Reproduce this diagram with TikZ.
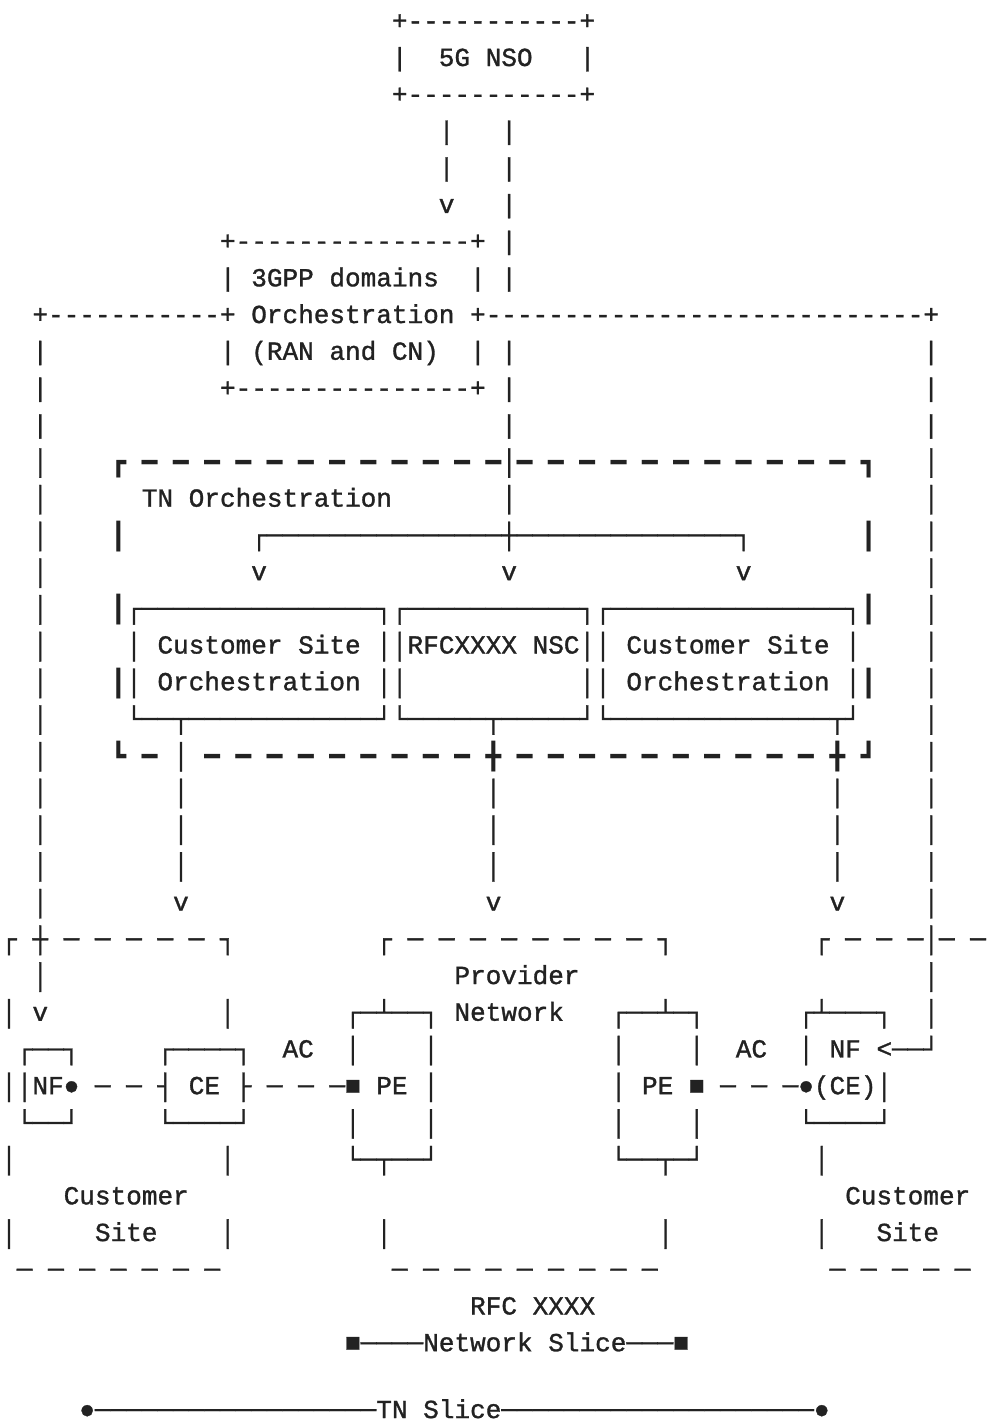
\documentclass[tikz,border=0pt]{standalone}
\usepackage{fontspec}
\newfontfamily\artmono{Liberation Mono}[Ligatures=TeXOff,FakeBold=1.2]
\newfontfamily\heavymono{DejaVu Sans Mono}[Ligatures=TeXOff]
\definecolor{ink}{HTML}{222222}
\tikzset{
  seg/.style={anchor=base west, inner sep=0pt, outer sep=0pt, text=ink,
    font=\artmono\fontsize{26.05pt}{36.72pt}\selectfont},
  heavyseg/.style={seg, font=\heavymono\fontsize{25.96pt}{36.72pt}\selectfont, yshift=-2pt},
}
% one run of characters on the character grid: column #3, line #4
\newcommand\Seg[5][seg]{\node[#1] (#2) at ({1.19+15.63*(#3)},{-29.3-36.72*(#4)}) {#5};}

\begin{document}
\begin{tikzpicture}[x=1pt,y=1pt]
\fill[white] (0,0) rectangle (990,-1423);
\useasboundingbox (0,0) rectangle (990,-1423);

% 5G NSO
\Seg{nsoTop}{25}{0}{+-----------+}
\Seg{nsoL}{25}{1}{|}
\Seg{nso}{28}{1}{5G NSO}
\Seg{nsoR}{37}{1}{|}
\Seg{nsoBot}{25}{2}{+-----------+}
\foreach \r in {3,4} {\Seg{nsoDown\r}{28}{\r}{|}}
\Seg{nsoArrow}{28}{5}{v}
\foreach \r in {3,...,7} {\Seg{nsoTnA\r}{32}{\r}{|}}
\foreach \r in {9,10,11} {\Seg{nsoTnB\r}{32}{\r}{|}}

% 3GPP domains orchestration
\Seg{gppTop}{14}{6}{+---------------+}
\Seg{gppL1}{14}{7}{|}
\Seg{gppA}{16}{7}{3GPP domains}
\Seg{gppR1}{30}{7}{|}
\Seg{leftBranch}{2}{8}{+-----------+}
\Seg{gppB}{16}{8}{Orchestration}
\Seg{rightBranch}{30}{8}{+----------------------------+}
\Seg{gppL2}{14}{9}{|}
\Seg{gppC}{16}{9}{(RAN and CN)}
\Seg{gppR2}{30}{9}{|}
\Seg{gppBot}{14}{10}{+---------------+}

% long links to the network functions
\foreach \r in {9,10,11} {\Seg{nfLa\r}{2}{\r}{|}\Seg{nfRa\r}{59}{\r}{|}}
\foreach \r in {12,...,24} {\Seg{nfLb\r}{2}{\r}{│}\Seg{nfRb\r}{59}{\r}{│}}
\Seg{nfLb26}{2}{26}{│}
\Seg{nfRb26}{59}{26}{│}
\Seg{nfRb27}{59}{27}{│}

% TN orchestration
\Seg[heavyseg]{tnTopL}{7}{12}{┏ ━ ━ ━ ━ ━ ━ ━ ━ ━ ━ ━ ━}
\Seg{tnPass}{32}{12}{│}
\Seg[heavyseg]{tnTopR}{33}{12}{━ ━ ━ ━ ━ ━ ━ ━ ━ ━ ━ ┓}
\Seg{tnLabel}{9}{13}{TN Orchestration}
\Seg{tnIn}{32}{13}{│}
\Seg[heavyseg]{tnL14}{7}{14}{┃}
\Seg{fanout}{16}{14}{┌───────────────┼──────────────┐}
\Seg[heavyseg]{tnR14}{55}{14}{┃}
\Seg{toCsoL}{16}{15}{v}
\Seg{toNsc}{32}{15}{v}
\Seg{toCsoR}{47}{15}{v}
\Seg[heavyseg]{tnL16}{7}{16}{┃}
\Seg{boxTops}{8}{16}{┌───────────────┐┌───────────┐┌───────────────┐}
\Seg[heavyseg]{tnR16}{55}{16}{┃}
\Seg{boxRow1}{8}{17}{│ Customer Site ││RFCXXXX NSC││ Customer Site │}
\Seg[heavyseg]{tnL18}{7}{18}{┃}
\Seg{boxRow2a}{8}{18}{│ Orchestration ││}
\Seg{boxRow2b}{37}{18}{││ Orchestration │}
\Seg[heavyseg]{tnR18}{55}{18}{┃}
\Seg{boxBots}{8}{19}{└──┬────────────┘└─────┬─────┘└──────────────┬┘}
\Seg[heavyseg]{tnBotL}{7}{20}{┗ ━}
\Seg{csoLOut}{11}{20}{│}
\Seg[heavyseg]{tnBotR}{13}{20}{━ ━ ━ ━ ━ ━ ━ ━ ━ ╋ ━ ━ ━ ━ ━ ━ ━ ━ ━ ━ ╋ ┛}
\foreach \r in {21,22,23} {\Seg{csoLDown\r}{11}{\r}{│}\Seg{nscDown\r}{31}{\r}{│}\Seg{csoRDown\r}{53}{\r}{│}}
\Seg{csoLArrow}{11}{24}{v}
\Seg{nscArrow}{31}{24}{v}
\Seg{csoRArrow}{53}{24}{v}

% sites and provider network
\Seg{siteLTop}{0}{25}{┌ ┼ ─ ─ ─ ─ ─ ┐}
\Seg{provTop}{24}{25}{┌ ─ ─ ─ ─ ─ ─ ─ ─ ┐}
\Seg{siteRTop}{52}{25}{┌ ─ ─ ─│─ ─}
\Seg{provA}{29}{26}{Provider}
\Seg{siteLL27}{0}{27}{│}
\Seg{nfLArrow}{2}{27}{v}
\Seg{siteLR27}{14}{27}{│}
\Seg{peLTop}{22}{27}{┌─┴──┐}
\Seg{provB}{29}{27}{Network}
\Seg{peRTop}{39}{27}{┌──┴─┐}
\Seg{nfRTop}{51}{27}{┌┴───┐}
\Seg{nfLTop}{1}{28}{┌──┐}
\Seg{ceTop}{10}{28}{┌────┐}
\Seg{acL}{18}{28}{AC}
\Seg{peL28a}{22}{28}{│}
\Seg{peL28b}{27}{28}{│}
\Seg{peR28a}{39}{28}{│}
\Seg{peR28b}{44}{28}{│}
\Seg{acR}{47}{28}{AC}
\Seg{nfR}{51}{28}{│ NF <──┘}
\Seg{acLineL}{0}{29}{││NF● ─ ─ ┤ CE ├ ─ ─ ─■ PE │}
\Seg{acLineR}{39}{29}{│ PE ■ ─ ─ ─●(CE)│}
\Seg{nfLBot}{1}{30}{└──┘}
\Seg{ceBot}{10}{30}{└────┘}
\Seg{peL30a}{22}{30}{│}
\Seg{peL30b}{27}{30}{│}
\Seg{peR30a}{39}{30}{│}
\Seg{peR30b}{44}{30}{│}
\Seg{nfRBot}{51}{30}{└────┘}
\Seg{siteLL31}{0}{31}{│}
\Seg{siteLR31}{14}{31}{│}
\Seg{peLBot}{22}{31}{└─┬──┘}
\Seg{peRBot}{39}{31}{└──┬─┘}
\Seg{siteRL31}{52}{31}{│}
\Seg{siteLA}{4}{32}{Customer}
\Seg{siteRA}{54}{32}{Customer}
\Seg{siteLL33}{0}{33}{│}
\Seg{siteLB}{6}{33}{Site}
\Seg{siteLR33}{14}{33}{│}
\Seg{provL33}{24}{33}{│}
\Seg{provR33}{42}{33}{│}
\Seg{siteRL33}{52}{33}{│}
\Seg{siteRB}{56}{33}{Site}
\Seg{siteLBot}{1}{34}{─ ─ ─ ─ ─ ─ ─}
\Seg{provBot}{25}{34}{─ ─ ─ ─ ─ ─ ─ ─ ─}
\Seg{siteRBot}{53}{34}{─ ─ ─ ─ ─}

% slice extents
\Seg{nsLabel}{30}{35}{RFC XXXX}
\Seg{nsSpan}{22}{36}{■────Network Slice───■}
\Seg{tnSpan}{5}{37.82}{●──────────────────TN Slice────────────────────●}
\end{tikzpicture}
\end{document}
